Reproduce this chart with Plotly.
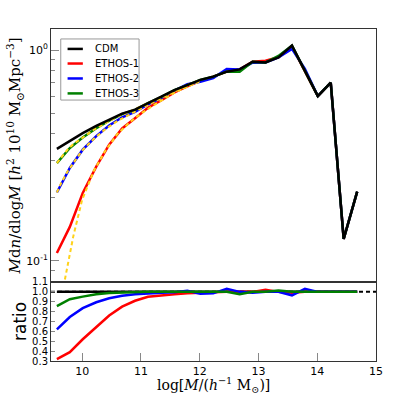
import plotly.graph_objects as go

# halo mass bins, log10(M / (h^-1 Msun))
log_m = [9.57, 9.79, 10.01, 10.24, 10.46, 10.68, 10.90, 11.12, 11.35, 11.57, 11.79, 12.01,
         12.23, 12.46, 12.68, 12.90, 13.12, 13.34, 13.57, 13.79, 14.01, 14.23, 14.45, 14.68]

# mass function M dn/dlogM
cdm = [0.340, 0.371, 0.404, 0.437, 0.469, 0.500, 0.522, 0.561, 0.600, 0.646, 0.682, 0.722,
       0.748, 0.790, 0.810, 0.880, 0.873, 0.924, 1.050, 0.790, 0.605, 0.700, 0.127, 0.213]
ethos1 = [0.109, 0.145, 0.210, 0.280, 0.356, 0.425, 0.475, 0.533, 0.579, 0.630, 0.672, 0.715,
          0.748, 0.790, 0.810, 0.880, 0.890, 0.924, 1.040, 0.790, 0.605, 0.700, 0.127, 0.213]
ethos2 = [0.211, 0.276, 0.337, 0.391, 0.439, 0.480, 0.509, 0.553, 0.594, 0.643, 0.689, 0.708,
          0.737, 0.814, 0.810, 0.871, 0.873, 0.924, 1.013, 0.814, 0.605, 0.700, 0.127, 0.213]
ethos3 = [0.291, 0.343, 0.385, 0.426, 0.463, 0.497, 0.520, 0.561, 0.600, 0.646, 0.682, 0.722,
          0.748, 0.790, 0.790, 0.880, 0.873, 0.938, 1.050, 0.790, 0.605, 0.700, 0.127, 0.213]

# ratio to CDM
ratio_cdm = [1.0] * len(log_m)
ratio1 = [0.32, 0.39, 0.52, 0.64, 0.76, 0.85, 0.91, 0.95, 0.965, 0.975, 0.985, 0.99,
          1.0, 1.0, 1.0, 1.0, 1.02, 1.0, 0.99, 1.0, 1.0, 1.0, 1.0, 1.0]
ratio2 = [0.62, 0.745, 0.835, 0.895, 0.935, 0.96, 0.975, 0.985, 0.99, 0.995, 1.01, 0.98,
          0.985, 1.03, 1.0, 0.99, 1.0, 1.0, 0.965, 1.03, 1.0, 1.0, 1.0, 1.0]
ratio3 = [0.855, 0.925, 0.952, 0.975, 0.988, 0.993, 0.997, 1.0, 1.0, 1.0, 1.0, 1.0,
          1.0, 1.0, 0.975, 1.0, 1.0, 1.015, 1.0, 1.0, 1.0, 1.0, 1.0, 1.0]

# fitted curves (yellow dashed)
fit_x = [9.57, 9.65, 9.75, 9.85, 10.0, 10.2, 10.4, 10.6, 10.8, 11.0, 11.3, 11.6, 12.0]
fit1 = [0.052, 0.068, 0.095, 0.131, 0.195, 0.268, 0.335, 0.400, 0.452, 0.500, 0.566, 0.635, 0.715]
fit2 = [0.211, 0.236, 0.265, 0.292, 0.334, 0.380, 0.423, 0.461, 0.495, 0.528, 0.583, 0.640, 0.708]
fit3 = [0.291, 0.312, 0.337, 0.358, 0.384, 0.419, 0.451, 0.484, 0.510, 0.542, 0.595, 0.646, 0.722]

ref_line_x = [9.47, 15.0]
ref_line_y = [1.0, 1.0]

names = ["ETHOS-1", "ETHOS-2", "ETHOS-3"]
colors = ["#ff0000", "#0000ff", "#008000"]
tops = [ethos1, ethos2, ethos3]
ratios = [ratio1, ratio2, ratio3]
fits = [fit1, fit2, fit3]

SANS = "DejaVu Sans"
SERIF = "DejaVu Serif"
LW = 2.5
FRAME = "#333333"

fig = go.Figure()

# upper panel
for i, name in enumerate(names):
    fig.add_trace(go.Scatter(
        x=log_m, y=tops[i], mode="lines", name=name, showlegend=False,
        line=dict(color=colors[i], width=LW), xaxis="x2", yaxis="y",
    ))
for i in range(3):
    fig.add_trace(go.Scatter(
        x=fit_x, y=fits[i], mode="lines", showlegend=False,
        line=dict(color="#ffd21a", width=2, dash="4px,3px"), xaxis="x2", yaxis="y",
    ))
fig.add_trace(go.Scatter(
    x=log_m, y=cdm, mode="lines", name="CDM", showlegend=False,
    line=dict(color="black", width=LW), xaxis="x2", yaxis="y",
))

# ratio panel
fig.add_trace(go.Scatter(
    x=ref_line_x, y=ref_line_y, mode="lines", showlegend=False,
    line=dict(color="black", width=2, dash="4px,3px"), xaxis="x", yaxis="y2",
))
fig.add_trace(go.Scatter(
    x=log_m, y=ratio_cdm, mode="lines", showlegend=False,
    line=dict(color="black", width=LW), xaxis="x", yaxis="y2",
))
for i in range(3):
    fig.add_trace(go.Scatter(
        x=log_m, y=ratios[i], mode="lines", showlegend=False,
        line=dict(color=colors[i], width=LW), xaxis="x", yaxis="y2",
    ))

# hand-drawn legend box (plotly's own legend rows are too tall here)
legend_labels = ["CDM"] + names
legend_colors = ["black"] + colors
legend_rows = [0.940, 0.896, 0.851, 0.806]
shapes = [dict(type="rect", xref="paper", yref="paper", x0=0.030, x1=0.271, y0=0.786, y1=0.970,
               line=dict(color="#999999", width=1), fillcolor="white", layer="above")]
annotations = []
for lab, col, ry in zip(legend_labels, legend_colors, legend_rows):
    shapes.append(dict(type="line", xref="paper", yref="paper", x0=0.051, x1=0.098, y0=ry, y1=ry,
                       line=dict(color=col, width=LW), layer="above"))
    annotations.append(dict(text=lab, xref="paper", yref="paper", x=0.128, y=ry,
                            xanchor="left", yanchor="middle", showarrow=False,
                            font=dict(family=SANS, size=10)))

annotations += [
    dict(text="<i>M</i>d<i>n</i>/dlog<i>M</i> [<i>h</i><sup>2</sup> 10<sup>10</sup> M<sub>⊙</sub>Mpc<sup>−3</sup>]",
         xref="paper", yref="paper", x=-0.113, y=0.617, xanchor="center", yanchor="middle",
         textangle=-90, showarrow=False, font=dict(family=SERIF, size=15)),
    dict(text="ratio", xref="paper", yref="paper", x=-0.096, y=0.12,
         xanchor="center", yanchor="middle", textangle=-90, showarrow=False,
         font=dict(family=SANS, size=17)),
    dict(text="log[<i>M</i>/(<i>h</i><sup>−1</sup> M<sub>⊙</sub>)]", xref="paper", yref="paper",
         x=0.5, y=-0.072, xanchor="center", yanchor="middle", showarrow=False,
         font=dict(family=SERIF, size=14)),
]

split = 0.238
axis_common = dict(showline=True, linecolor=FRAME, linewidth=1, mirror=True,
                   showgrid=False, zeroline=False, tickcolor="#888888")

fig.update_layout(
    width=395, height=395,
    margin=dict(l=51, r=12, t=29, b=34),
    plot_bgcolor="white", paper_bgcolor="white",
    font=dict(family=SANS, color="black"),
    showlegend=False,
    xaxis=dict(domain=[0, 1], anchor="y2", range=[9.47, 15.0],
               tickvals=[10, 11, 12, 13, 14, 15], ticks="inside", ticklen=8,
               tickfont=dict(size=11), **axis_common),
    xaxis2=dict(domain=[0, 1], anchor="y", matches="x", showticklabels=False,
                ticks="", **axis_common),
    yaxis=dict(domain=[split, 1], anchor="x2", type="log", range=[-1.1, 0.1],
               tickvals=[0.1, 1.0], ticktext=["10<sup>-1</sup>", "10<sup>0</sup>"],
               ticks="inside", ticklen=8, tickfont=dict(size=11),
               minor=dict(ticks="inside", ticklen=4, tickcolor="#888888",
                          tickvals=[0.08, 0.09, 0.2, 0.3, 0.4, 0.5, 0.6, 0.7, 0.8, 0.9]),
               **axis_common),
    yaxis2=dict(domain=[0, split], anchor="x", range=[0.3, 1.1],
                tickvals=[0.3, 0.4, 0.5, 0.6, 0.7, 0.8, 0.9, 1.0, 1.1],
                ticktext=["0.3", "0.4", "0.5", "0.6", "0.7", "0.8", "0.9", "1.0", "1.1"],
                ticks="inside", ticklen=4, tickfont=dict(size=10), **axis_common),
    shapes=shapes,
    annotations=annotations,
)

fig.write_html("out.html", config={"displayModeBar": False},
               post_script="document.body.style.margin='0';")
